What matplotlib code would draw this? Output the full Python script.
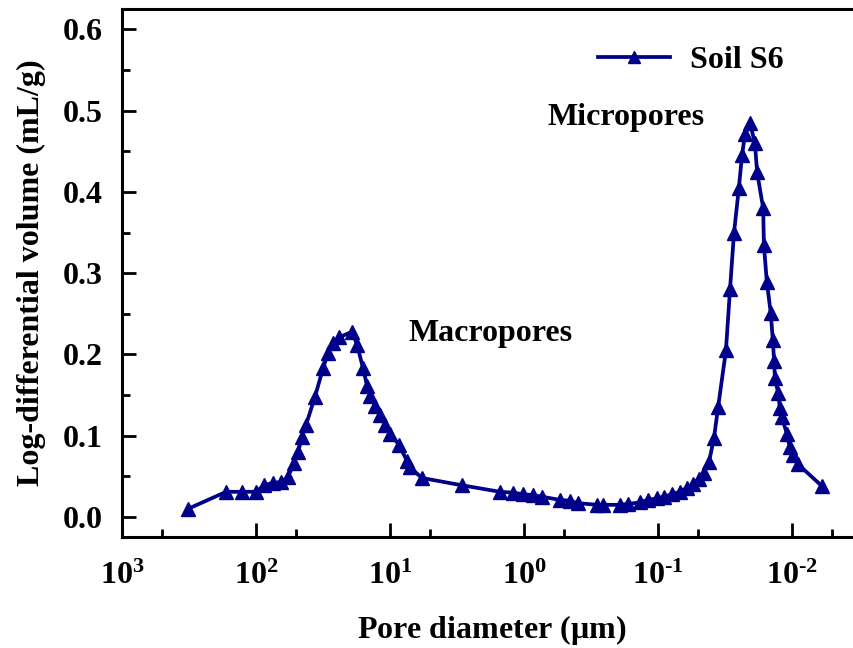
import matplotlib
matplotlib.use("Agg")
import matplotlib.pyplot as plt
from matplotlib.ticker import FixedLocator, NullFormatter

plt.rcParams["font.family"] = ["Liberation Serif", "DejaVu Serif"]
plt.rcParams["font.weight"] = "bold"
plt.rcParams["mathtext.fontset"] = "custom"
plt.rcParams["mathtext.rm"] = "Liberation Serif:bold"
plt.rcParams["mathtext.bf"] = "Liberation Serif:bold"
plt.rcParams["mathtext.it"] = "Liberation Serif:bold:italic"
plt.rcParams["mathtext.default"] = "rm"

# Pore diameter (um) and log-differential intrusion volume (mL/g), soil S6
diameter_um = [
    322, 167, 127, 100, 87, 75, 65, 58, 52.0, 48.6, 45.4, 42.4, 36.3, 31.6,
    29.0, 26.6, 24.0, 19.2, 17.6, 15.9, 14.8, 14.1, 12.9, 11.9, 10.9, 10.0,
    8.57, 7.47, 7.09, 5.77, 2.90, 1.51, 1.21, 1.02, 0.857, 0.734, 0.539,
    0.454, 0.395, 0.285, 0.257, 0.192, 0.168, 0.136, 0.119, 0.102, 0.090,
    0.0787, 0.0686, 0.0608, 0.0548, 0.0494, 0.0454, 0.0416, 0.0382, 0.0356,
    0.0311, 0.0290, 0.0271, 0.0249, 0.0236, 0.0224, 0.0206, 0.0189, 0.0182,
    0.0164, 0.0162, 0.0154, 0.0144, 0.0139, 0.0136, 0.0134, 0.0127, 0.0123,
    0.0119, 0.0109, 0.0104, 0.00984, 0.00902, 0.00597,
]
log_diff_volume = [
    0.010, 0.031, 0.031, 0.031, 0.039, 0.042, 0.043, 0.049, 0.066, 0.080,
    0.098, 0.113, 0.148, 0.183, 0.202, 0.214, 0.221, 0.228, 0.212, 0.183,
    0.161, 0.149, 0.137, 0.125, 0.113, 0.102, 0.089, 0.069, 0.061, 0.048,
    0.039, 0.031, 0.030, 0.028, 0.027, 0.025, 0.021, 0.020, 0.017, 0.015,
    0.015, 0.015, 0.016, 0.018, 0.021, 0.023, 0.025, 0.028, 0.031, 0.036,
    0.041, 0.047, 0.054, 0.068, 0.097, 0.135, 0.205, 0.280, 0.349, 0.405,
    0.445, 0.471, 0.485, 0.460, 0.424, 0.380, 0.335, 0.289, 0.251, 0.218,
    0.192, 0.171, 0.153, 0.134, 0.123, 0.102, 0.086, 0.076, 0.065, 0.038,
]

x_major = [1e3, 1e2, 1e1, 1e0, 1e-1, 1e-2]
x_major_labels = [r"$10^{3}$", r"$10^{2}$", r"$10^{1}$",
                  r"$10^{0}$", r"$10^{\text{-}1}$", r"$10^{\text{-}2}$"]
x_minor = [500, 50, 5, 0.5, 0.05, 0.005]
y_major = [0.0, 0.1, 0.2, 0.3, 0.4, 0.5, 0.6]
y_major_labels = ["0.0", "0.1", "0.2", "0.3", "0.4", "0.5", "0.6"]
y_minor = [0.05, 0.15, 0.25, 0.35, 0.45, 0.55]

navy = "#00008B"

fig = plt.figure(figsize=(8.54, 6.48), dpi=100)
ax = fig.add_axes([0.1429, 0.1713, 0.8665, 0.8148])

ax.plot(diameter_um, log_diff_volume, color=navy, lw=2.7, marker="^",
        markersize=10, markeredgecolor=navy, markerfacecolor=navy,
        label="Soil S6")

ax.set_xscale("log")
ax.set_xlim(1000, 0.003)
ax.set_ylim(-0.0246, 0.625)

ax.set_xticks(x_major)
ax.set_xticklabels(x_major_labels)
ax.xaxis.set_minor_locator(FixedLocator(x_minor))
ax.xaxis.set_minor_formatter(NullFormatter())
ax.set_yticks(y_major)
ax.set_yticklabels(y_major_labels)
ax.yaxis.set_minor_locator(FixedLocator(y_minor))

for side in ("left", "top", "bottom", "right"):
    ax.spines[side].set_linewidth(2.2)
ax.spines["right"].set_visible(False)

ax.tick_params(axis="both", which="major", direction="in", length=10,
               width=2.0, labelsize=23)
ax.tick_params(axis="both", which="minor", direction="in", length=6,
               width=2.0)
ax.tick_params(axis="x", which="major", pad=18)
ax.tick_params(axis="y", which="major", pad=14)
for lbl in ax.get_yticklabels():
    lbl.set_fontweight("bold")

ax.set_xlabel(r"Pore diameter ($\mathrm{\mu}$m)", fontsize=23,
              fontweight="bold", labelpad=16)
ax.set_ylabel("Log-differential volume (mL/g)", fontsize=23,
              fontweight="bold", labelpad=12)

ax.text(1.79, 0.226, "Macropores", fontsize=23, fontweight="bold",
        ha="center", va="center")
ax.text(0.173, 0.492, "Micropores", fontsize=23, fontweight="bold",
        ha="center", va="center")

leg = ax.legend(loc="upper left", bbox_to_anchor=(0.605, 0.985),
                frameon=False, fontsize=23, handlelength=2.25,
                handletextpad=0.6, markerscale=0.85)

fig.savefig("out.png", dpi=100)
